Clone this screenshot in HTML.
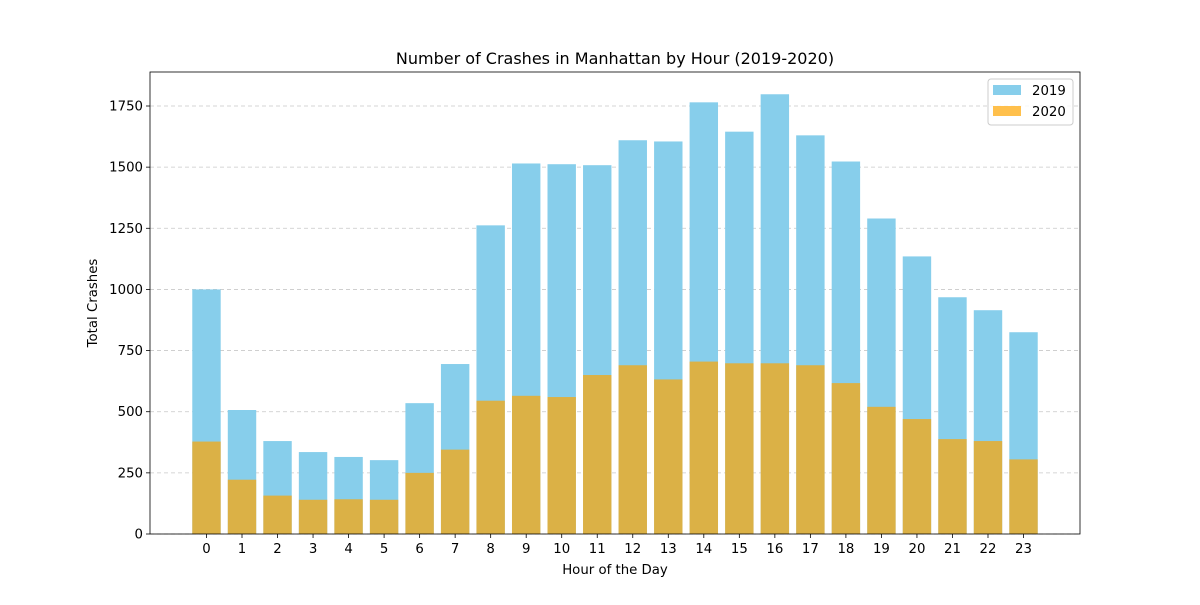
<!DOCTYPE html>
<html><head><meta charset="utf-8"><style>
body{margin:0;background:#fff;}
svg text{font-family:"DejaVu Sans","Liberation Sans",sans-serif;}
</style></head><body>
<svg id="chart" width="1200" height="600" xmlns="http://www.w3.org/2000/svg"></svg>
<script>
const hours = [0,1,2,3,4,5,6,7,8,9,10,11,12,13,14,15,16,17,18,19,20,21,22,23];
const crashes2019 = [1000,507,380,335,315,302,535,695,1262,1515,1512,1508,1610,1605,1765,1645,1798,1630,1523,1290,1135,968,915,825];
const crashes2020 = [378,222,157,140,142,140,250,345,545,565,560,650,690,632,705,698,698,690,617,520,470,388,380,305];
const yTicks = [0,250,500,750,1000,1250,1500,1750];

const NS="http://www.w3.org/2000/svg";
const svg=document.getElementById('chart');
const L=150,R=1080,T=72,B=534;
const xmin=-1.59,xmax=24.59;
const xs=v=>L+(v-xmin)/(xmax-xmin)*(R-L);
const ys=v=>B-v*(428/1750);
function mk(tag,attrs,parent){const e=document.createElementNS(NS,tag);for(const k in attrs)e.setAttribute(k,attrs[k]);(parent||svg).appendChild(e);return e;}

yTicks.forEach(t=>{
  const g=mk('line',{x1:L,x2:R,y1:ys(t),y2:ys(t),stroke:'#b0b0b0','stroke-width':0.8,'stroke-dasharray':'4,3','stroke-opacity':0.7});
  
  
});
const bw=(xs(0.8)-xs(0));
hours.forEach((h,i)=>{
  const r1=mk('rect',{x:xs(h)-bw/2,y:ys(crashes2019[i]),width:bw,height:B-ys(crashes2019[i]),fill:'#87ceeb'});
  
  
  const r2=mk('rect',{x:xs(h)-bw/2,y:ys(crashes2020[i]),width:bw,height:B-ys(crashes2020[i]),fill:'#ffa500','fill-opacity':0.7});
  
  
  mk('line',{x1:xs(h),x2:xs(h),y1:B,y2:B+4,stroke:'#000','stroke-width':0.8});
  const t=mk('text',{x:xs(h),y:B+19,'text-anchor':'middle','font-size':13.3,fill:'#000'});
  t.textContent=h;
  
  
});
yTicks.forEach(v=>{
  mk('line',{x1:L-4,x2:L,y1:ys(v),y2:ys(v),stroke:'#000','stroke-width':0.8});
  const t=mk('text',{x:L-7,y:ys(v)+4.5,'text-anchor':'end','font-size':13.3,fill:'#000'});
  t.textContent=v;
  
  
});
const frame=mk('rect',{x:L,y:T,width:R-L,height:B-T,fill:'none',stroke:'#000','stroke-width':0.8});


const title=mk('text',{x:(L+R)/2,y:64,'text-anchor':'middle','font-size':16,fill:'#000'});
title.textContent='Number of Crashes in Manhattan by Hour (2019-2020)';


const xt=mk('text',{x:(L+R)/2,y:574,'text-anchor':'middle','font-size':13.3,fill:'#000'});
xt.textContent='Hour of the Day';


const yt=mk('text',{x:97,y:(T+B)/2,'text-anchor':'middle','font-size':13.3,fill:'#000',transform:'rotate(-90 97 '+((T+B)/2)+')'});
yt.textContent='Total Crashes';


const lg=mk('g',{});


mk('rect',{x:988,y:79,width:85,height:46,rx:3,fill:'#fff','fill-opacity':0.8,stroke:'#ccc'},lg);
const entries=[['2019','#87ceeb',1],['2020','#ffa500',0.7]];
entries.forEach((e,i)=>{
  const y=85+i*21;
  const sw=mk('rect',{x:993,y:y,width:28,height:10,fill:e[1],'fill-opacity':e[2]},lg);
  
  
  const t=mk('text',{x:1032,y:y+10,'font-size':13.3,fill:'#000'},lg);
  t.textContent=e[0];
  
  
});
</script>
</body></html>
